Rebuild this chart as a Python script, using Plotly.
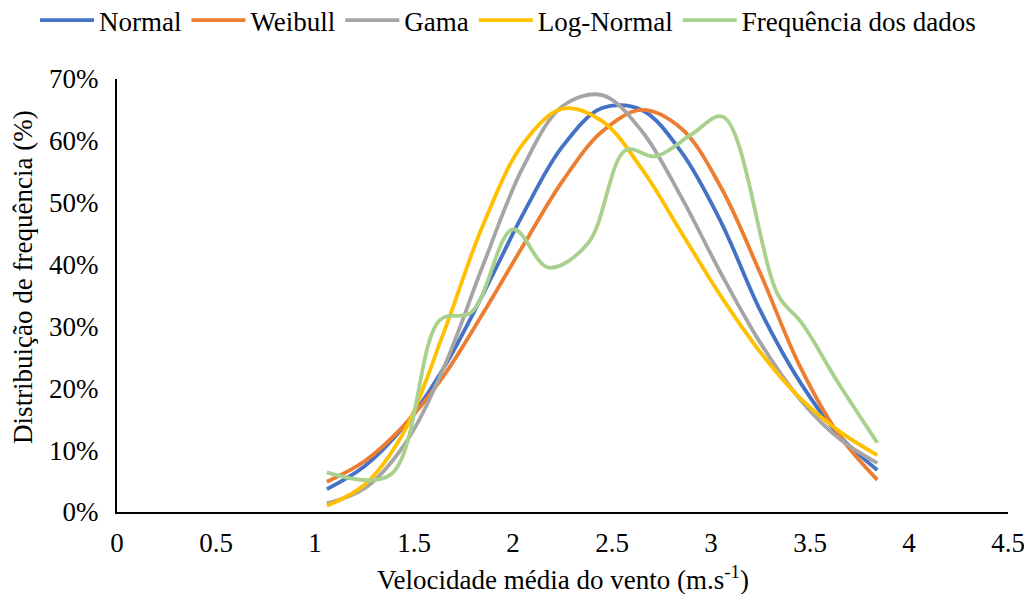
import plotly.graph_objects as go

# ---- data ----
dist_x = [1.06, 1.25, 1.45, 1.65, 1.85, 2.05, 2.25, 2.45, 2.65, 2.85, 3.05, 3.25, 3.45, 3.65, 3.84]
normal = [3.7, 7.4, 13.9, 23.3, 35.3, 48.1, 59.1, 65.3, 65.0, 58.2, 46.9, 32.5, 21.0, 12.3, 6.8]
weibull = [4.9, 8.2, 14.0, 22.0, 32.2, 43.0, 53.5, 61.5, 65.0, 62.0, 52.5, 38.5, 23.5, 12.3, 5.2]
gama = [1.4, 3.8, 10.8, 23.3, 40.0, 55.7, 65.6, 67.4, 61.6, 50.9, 38.6, 27.3, 18.2, 11.8, 7.9]
lognormal = [1.0, 4.4, 13.0, 29.0, 46.5, 59.5, 65.2, 63.2, 55.5, 45.2, 34.9, 25.8, 18.4, 13.0, 9.2]

freq_x = [1.06, 1.38, 1.63, 1.79, 2.0, 2.18, 2.38, 2.57, 2.72, 2.9, 3.06, 3.34, 3.46, 3.64, 3.84]
freq = [6.4, 6.0, 31.0, 32.3, 45.7, 39.5, 43.5, 58.5, 57.5, 61.0, 63.9, 35.0, 30.5, 21.0, 11.2]

series_names = ["Normal", "Weibull", "Gama", "Log-Normal", "Frequência dos dados"]
series_colors = ["#4472C4", "#ED7D31", "#A5A5A5", "#FFC000", "#A9D18E"]

x_tickvals = [0, 0.5, 1, 1.5, 2, 2.5, 3, 3.5, 4, 4.5]
x_ticktext = ["0", "0.5", "1", "1.5", "2", "2.5", "3", "3.5", "4", "4.5"]
y_tickvals = [0, 10, 20, 30, 40, 50, 60, 70]
y_ticktext = ["0%", "10%", "20%", "30%", "40%", "50%", "60%", "70%"]

FONT = "Liberation Serif, Times New Roman, Times, DejaVu Serif, serif"
FS = 27

L, R, T, B = 117, 16, 79, 82
PW, PH = 1024 - L - R, 594 - T - B

fig = go.Figure()
xs = [dist_x, dist_x, dist_x, dist_x, freq_x]
ys = [normal, weibull, gama, lognormal, freq]
for name, color, x, y in zip(series_names, series_colors, xs, ys):
    fig.add_trace(go.Scatter(
        x=x, y=y, name=name, mode="lines",
        line=dict(color=color, width=3.8, shape="spline", smoothing=1.0),
    ))

fig.update_layout(
    width=1024, height=594,
    margin=dict(l=L, r=R, t=T, b=B, autoexpand=False),
    paper_bgcolor="white", plot_bgcolor="white",
    font=dict(family=FONT, size=FS, color="black"),
    showlegend=True,
    legend=dict(
        orientation="h", xref="paper", yref="paper",
        x=(35 - L) / PW, xanchor="left", y=(594 - B + 4) / PH, yanchor="top",
        font=dict(family=FONT, size=FS, color="black"),
        itemwidth=54, tracegroupgap=0, bgcolor="rgba(0,0,0,0)",
    ),
    xaxis=dict(
        range=[0, 4.5], tickvals=x_tickvals, ticktext=x_ticktext,
        showline=True, linecolor="black", linewidth=2, showgrid=False, zeroline=False,
        ticks="outside", ticklen=6, tickcolor="rgba(0,0,0,0)", ticklabeloverflow="allow",
        tickfont=dict(family=FONT, size=FS, color="black"),
    ),
    yaxis=dict(
        range=[0, 70], tickvals=y_tickvals, ticktext=y_ticktext,
        showline=True, linecolor="black", linewidth=2, showgrid=False, zeroline=False,
        ticks="outside", ticklen=11, tickcolor="rgba(0,0,0,0)",
        tickfont=dict(family=FONT, size=FS, color="black"),
    ),
    annotations=[
        dict(text="Velocidade média do vento (m.s<sup>-1</sup>)", xref="paper", yref="paper",
             x=0.5, y=-0.152, xanchor="center", yanchor="middle", showarrow=False,
             font=dict(family=FONT, size=FS, color="black")),
        dict(text="Distribuição de frequência (%)", xref="paper", yref="paper",
             x=(23 - L) / PW, y=0.543, xanchor="center", yanchor="middle", textangle=-90,
             showarrow=False, font=dict(family=FONT, size=FS, color="black")),
    ],
)

fig.write_html("out.html")
